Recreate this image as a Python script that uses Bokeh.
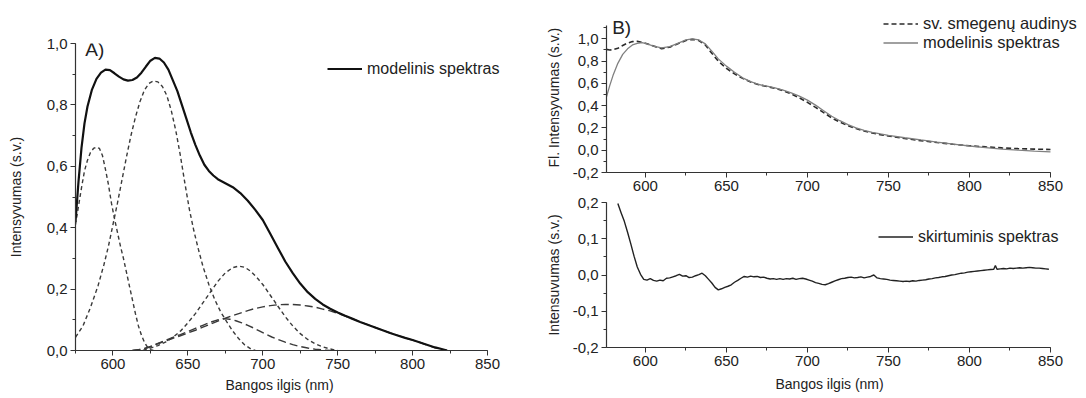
from bokeh.plotting import figure
from bokeh.layouts import row, column
from bokeh.models import (Range1d, SingleIntervalTicker, CustomJSTickFormatter,
                          Legend, LegendItem, Label, Title)
from bokeh.embed import file_html
from bokeh.resources import INLINE

# ---------------- Panel A: fitted model and its components ----------------
wl_fit_a = [575, 577, 579, 581, 583, 586, 589, 592, 595, 598, 601, 604, 607, 610, 613, 616,
            619, 622, 625, 628, 631, 634, 637, 640, 643, 646, 649, 652, 655, 658, 661, 664,
            667, 670, 675, 680, 685, 690, 695, 700, 705, 710, 715, 720, 725, 730, 735, 740,
            745, 750, 755, 760, 765, 770, 775, 780, 785, 790, 795, 800, 805, 810, 815, 820, 823]
fit_a = [0.42, 0.55, 0.66, 0.74, 0.795, 0.85, 0.885, 0.905, 0.915, 0.913, 0.903, 0.892, 0.883,
         0.879, 0.881, 0.889, 0.905, 0.925, 0.944, 0.953, 0.951, 0.938, 0.915, 0.88, 0.845,
         0.80, 0.755, 0.71, 0.67, 0.635, 0.605, 0.585, 0.57, 0.558, 0.545, 0.532, 0.513,
         0.488, 0.458, 0.425, 0.38, 0.335, 0.29, 0.252, 0.218, 0.19, 0.168, 0.15, 0.136,
         0.124, 0.113, 0.103, 0.093, 0.084, 0.075, 0.066, 0.057, 0.049, 0.041, 0.034, 0.026,
         0.018, 0.010, 0.004, 0.0]

wl_g1 = [575, 577, 579, 581, 583, 585, 587, 589, 591, 593, 595, 597, 599, 601, 603, 605, 607,
         609, 611, 613, 615, 617, 619, 621, 623, 625, 627]
g1 = [0.41, 0.47, 0.53, 0.585, 0.62, 0.645, 0.658, 0.663, 0.658, 0.635, 0.59, 0.54, 0.48,
      0.43, 0.385, 0.34, 0.30, 0.255, 0.21, 0.165, 0.12, 0.08, 0.05, 0.027, 0.011, 0.003, 0.0]

wl_g2 = [575, 580, 585, 590, 594, 597, 600, 603, 606, 609, 612, 615, 618, 621, 624, 627, 630,
         633, 636, 639, 642, 645, 648, 651, 654, 657, 660, 664, 668, 672, 676, 680, 684, 688,
         692, 695]
g2 = [0.043, 0.08, 0.14, 0.21, 0.28, 0.34, 0.41, 0.48, 0.555, 0.63, 0.70, 0.76, 0.81, 0.848,
      0.87, 0.878, 0.875, 0.86, 0.83, 0.78, 0.715, 0.635, 0.545, 0.46, 0.39, 0.33, 0.275,
      0.215, 0.165, 0.125, 0.093, 0.063, 0.038, 0.018, 0.005, 0.0]

wl_g3 = [620, 625, 630, 635, 640, 645, 650, 655, 660, 665, 670, 675, 680, 684, 688, 692, 696,
         700, 705, 710, 715, 720, 725, 730, 735, 740, 745, 750]
g3 = [0.0, 0.008, 0.016, 0.027, 0.043, 0.063, 0.09, 0.12, 0.155, 0.19, 0.225, 0.253, 0.27,
      0.275, 0.271, 0.258, 0.238, 0.215, 0.18, 0.145, 0.11, 0.08, 0.055, 0.036, 0.022, 0.012,
      0.005, 0.0]

wl_g4 = [613, 620, 625, 630, 635, 640, 645, 650, 655, 660, 665, 670, 675, 680, 685, 690, 695,
         700, 705, 710, 715, 720, 725, 730, 735, 740, 745, 750, 755, 760, 765, 770, 775, 780,
         785, 790, 795, 800, 805, 810, 815, 820, 823]
g4 = [0.0, 0.004, 0.012, 0.022, 0.031, 0.04, 0.048, 0.057, 0.066, 0.076, 0.086, 0.096, 0.105,
      0.114, 0.122, 0.13, 0.137, 0.142, 0.146, 0.149, 0.15, 0.15, 0.148, 0.145, 0.141, 0.135,
      0.129, 0.121, 0.112, 0.103, 0.093, 0.084, 0.075, 0.066, 0.057, 0.049, 0.041, 0.034,
      0.026, 0.017, 0.009, 0.003, 0.0]

wl_g5 = [613, 620, 625, 630, 635, 640, 645, 650, 655, 660, 665, 670, 674, 678, 682, 686, 690,
         694, 698, 702, 706, 710, 715, 720, 725, 730, 735, 740, 745]
g5 = [0.0, 0.005, 0.013, 0.023, 0.033, 0.043, 0.052, 0.062, 0.072, 0.082, 0.092, 0.100, 0.104,
      0.102, 0.097, 0.09, 0.082, 0.073, 0.063, 0.053, 0.044, 0.036, 0.027, 0.019, 0.013,
      0.008, 0.004, 0.002, 0.0]

# ---------------- Panel B (top): measured tissue spectrum vs model ----------------
wl_b = [576, 578, 580, 583, 586, 589, 592, 595, 598, 601, 605, 610, 615, 620, 625, 629, 633,
        637, 641, 645, 650, 655, 660, 665, 670, 675, 680, 685, 690, 695, 700, 705, 710, 715,
        720, 725, 730, 735, 740, 745, 750, 760, 770, 780, 790, 800, 810, 820, 830, 840, 850]
model_b = [0.48, 0.58, 0.67, 0.78, 0.86, 0.91, 0.945, 0.96, 0.965, 0.955, 0.935, 0.918, 0.93,
           0.96, 0.99, 1.0, 0.99, 0.955, 0.89, 0.82, 0.755, 0.70, 0.65, 0.615, 0.59, 0.575,
           0.56, 0.54, 0.515, 0.485, 0.45, 0.405, 0.355, 0.305, 0.265, 0.23, 0.20, 0.178,
           0.16, 0.146, 0.134, 0.112, 0.092, 0.073, 0.055, 0.038, 0.024, 0.01, 0.0, -0.008,
           -0.014]
tissue_b = [0.905, 0.90, 0.902, 0.915, 0.94, 0.962, 0.975, 0.977, 0.968, 0.955, 0.935, 0.912,
            0.925, 0.955, 0.985, 0.995, 0.985, 0.945, 0.87, 0.80, 0.735, 0.685, 0.645, 0.612,
            0.588, 0.572, 0.555, 0.535, 0.505, 0.47, 0.43, 0.385, 0.338, 0.29, 0.252, 0.22,
            0.194, 0.172, 0.155, 0.14, 0.127, 0.105, 0.086, 0.069, 0.053, 0.04, 0.03, 0.021,
            0.014, 0.01, 0.007]

# ---------------- Panel B (bottom): difference spectrum ----------------
wl_diff = [583, 585, 587, 589, 591, 593, 595, 597, 599, 601, 603, 605, 607, 609, 611, 613, 615,
           617, 619, 621, 623, 625, 627, 629, 631, 633, 635, 637, 639, 641, 643, 645, 647, 649,
           651, 653, 655, 657, 659, 661, 663, 665, 667, 669, 671, 673, 675, 677, 679, 681, 683,
           685, 687, 689, 691, 693, 695, 697, 699, 701, 703, 705, 707, 709, 711, 713, 715, 717,
           719, 721, 723, 725, 727, 729, 731, 733, 735, 737, 739, 741, 743, 745, 747, 749, 751,
           753, 755, 757, 759, 761, 763, 765, 767, 769, 771, 773, 775, 777, 779, 781, 783, 785,
           787, 789, 791, 793, 795, 797, 799, 801, 803, 805, 807, 809, 811, 813, 815, 816, 817,
           819, 821, 823, 825, 827, 829, 831, 833, 835, 837, 839, 841, 843, 845, 847, 849]
diff = [0.197, 0.172, 0.148, 0.118, 0.086, 0.052, 0.022, 0.002, -0.012, -0.014, -0.010,
        -0.015, -0.017, -0.014, -0.016, -0.009, -0.008, -0.005, -0.002, 0.002, -0.003, -0.002,
        -0.007, -0.006, -0.002, 0.001, 0.005, -0.002, -0.012, -0.022, -0.034, -0.041, -0.038,
        -0.034, -0.031, -0.027, -0.020, -0.015, -0.009, -0.004, -0.006, -0.003, -0.005, -0.004,
        -0.007, -0.006, -0.009, -0.011, -0.010, -0.012, -0.010, -0.012, -0.010, -0.011, -0.009,
        -0.012, -0.010, -0.009, -0.011, -0.014, -0.017, -0.021, -0.023, -0.026, -0.027, -0.024,
        -0.020, -0.016, -0.013, -0.010, -0.009, -0.007, -0.006, -0.008, -0.007, -0.005, -0.008,
        -0.006, -0.004, 0.000, -0.008, -0.010, -0.011, -0.012, -0.014, -0.015, -0.016, -0.017,
        -0.018, -0.017, -0.018, -0.016, -0.017, -0.015, -0.014, -0.013, -0.011, -0.010, -0.008,
        -0.007, -0.005, -0.004, -0.002, 0.000, 0.001, 0.003, 0.005, 0.006, 0.008, 0.009, 0.010,
        0.011, 0.012, 0.013, 0.014, 0.015, 0.016, 0.026, 0.016, 0.017, 0.018, 0.017, 0.019,
        0.018, 0.019, 0.020, 0.019, 0.020, 0.021, 0.020, 0.019, 0.019, 0.018, 0.017, 0.016]

FONT = "Liberation Sans"
AXIS_COLOR = "#333333"
TEXT_COLOR = "#222222"

comma_fmt = CustomJSTickFormatter(code="""
    const v = Math.abs(tick) < 1e-9 ? 0 : tick;
    return v.toFixed(1).replace('.', ',');
""")


def style_axes(p, x_bounds, y_bounds, y_interval, y_label=None, y_label_standoff=0):
    p.xaxis.ticker = SingleIntervalTicker(interval=50, num_minor_ticks=2)
    p.yaxis.ticker = SingleIntervalTicker(interval=y_interval, num_minor_ticks=2)
    p.xaxis.bounds = x_bounds
    p.yaxis.bounds = y_bounds
    p.yaxis.formatter = comma_fmt
    for ax in (p.xaxis[0], p.yaxis[0]):
        ax.axis_line_color = AXIS_COLOR
        ax.axis_line_width = 1.2
        ax.major_tick_line_color = AXIS_COLOR
        ax.minor_tick_line_color = AXIS_COLOR
        ax.major_tick_out = 5
        ax.major_tick_in = 0
        ax.minor_tick_out = 3
        ax.minor_tick_in = 0
        ax.major_label_text_font = FONT
        ax.major_label_text_font_size = "15px"
        ax.major_label_text_color = TEXT_COLOR
        ax.major_label_standoff = 3
        ax.axis_label_text_font = FONT
        ax.axis_label_text_font_size = "14px"
        ax.axis_label_text_font_style = "normal"
        ax.axis_label_text_color = TEXT_COLOR
    if y_label:
        p.yaxis.axis_label = y_label
        p.yaxis.axis_label_standoff = y_label_standoff
    p.xgrid.visible = False
    p.ygrid.visible = False
    p.outline_line_color = None


def caption(text, offset, standoff):
    # axis caption as a side title, placed from the start of the axis
    return Title(text=text, align="left", offset=offset, standoff=standoff,
                 text_font=FONT, text_font_size="14px", text_font_style="normal",
                 text_color=TEXT_COLOR)


def make_legend(items, loc, size):
    return Legend(items=items, location=loc, padding=0, margin=0, spacing=0,
                  glyph_width=35, glyph_height=19, label_height=19, label_standoff=5,
                  label_text_font=FONT, label_text_font_size=size,
                  label_text_color=TEXT_COLOR,
                  border_line_alpha=0, background_fill_alpha=0)


# ---------------- figure A ----------------
# the frame reaches a little past 850 nm so the legend text has room; the axis stops at 850
pa = figure(width=530, height=398, output_backend="svg", toolbar_location=None,
            x_range=Range1d(575, 860), y_range=Range1d(0, 1.0),
            min_border_left=75, min_border_right=28, min_border_top=43, min_border_bottom=48)
style_axes(pa, (575, 850), (0, 1.0), 0.2, "Intensyvumas (s.v.)", 20)
pa.add_layout(caption("Bangos ilgis (nm)", 150, 6), "below")

comp_color = "#3a3a3a"
pa.line(wl_g1, g1, line_color=comp_color, line_width=1.4, line_dash="4 3")
pa.line(wl_g2, g2, line_color=comp_color, line_width=1.4, line_dash="4 3")
pa.line(wl_g3, g3, line_color=comp_color, line_width=1.4, line_dash="4 3")
pa.line(wl_g4, g4, line_color=comp_color, line_width=1.4, line_dash="8 4")
pa.line(wl_g5, g5, line_color=comp_color, line_width=1.4, line_dash="8 4")
ra = pa.line(wl_fit_a, fit_a, line_color="#111111", line_width=2.2)

pa.add_layout(make_legend([LegendItem(label="modelinis spektras", renderers=[ra])],
                          (252, 272), "16px"))
pa.add_layout(Label(x=581.5, y=0.982, text="A)", text_font=FONT, text_font_size="19px",
                    text_color=TEXT_COLOR, text_baseline="middle"))

# ---------------- figure B top ----------------
# frame extends above 1,1 and past 850 nm to hold the legend; axes keep their own bounds
pb1 = figure(width=556, height=195, output_backend="svg", toolbar_location=None,
             x_range=Range1d(576, 871), y_range=Range1d(-0.2, 1.344),
             min_border_left=76, min_border_right=2, min_border_top=0, min_border_bottom=23)
style_axes(pb1, (576, 850), (-0.2, 1.12), 0.2)
pb1.add_layout(caption("Fl. Intensyvumas (s.v.)", 5, 16), "left")
r_tissue = pb1.line(wl_b, tissue_b, line_color="#2a2a2a", line_width=1.6, line_dash="5 3")
r_model = pb1.line(wl_b, model_b, line_color="#808080", line_width=1.3)
pb1.add_layout(make_legend([LegendItem(label="sv. smegenų audinys", renderers=[r_tissue]),
                            LegendItem(label="modelinis spektras", renderers=[r_model])],
                           (277, 120), "16.5px"))
pb1.add_layout(Label(x=579.5, y=1.1, text="B)", text_font=FONT, text_font_size="19px",
                     text_color=TEXT_COLOR, text_baseline="middle"))

# ---------------- figure B bottom ----------------
# same horizontal frame as the top panel (the column lines the two frames up)
pb2 = figure(width=556, height=203, output_backend="svg", toolbar_location=None,
             x_range=Range1d(576, 871), y_range=Range1d(-0.2, 0.2),
             min_border_left=76, min_border_right=2, min_border_top=7, min_border_bottom=51)
style_axes(pb2, (576, 850), (-0.2, 0.2), 0.1, "Intensuvumas (s.v.)", 8)
pb2.add_layout(caption("Bangos ilgis (nm)", 169, 10), "below")
r_diff = pb2.line(wl_diff, diff, line_color="#222222", line_width=1.4)
pb2.add_layout(make_legend([LegendItem(label="skirtuminis spektras", renderers=[r_diff])],
                           (272, 101), "16px"))

layout = row(pa, column(pb1, pb2, spacing=0), spacing=0)

with open("out.html", "w") as f:
    f.write(file_html(layout, INLINE))
